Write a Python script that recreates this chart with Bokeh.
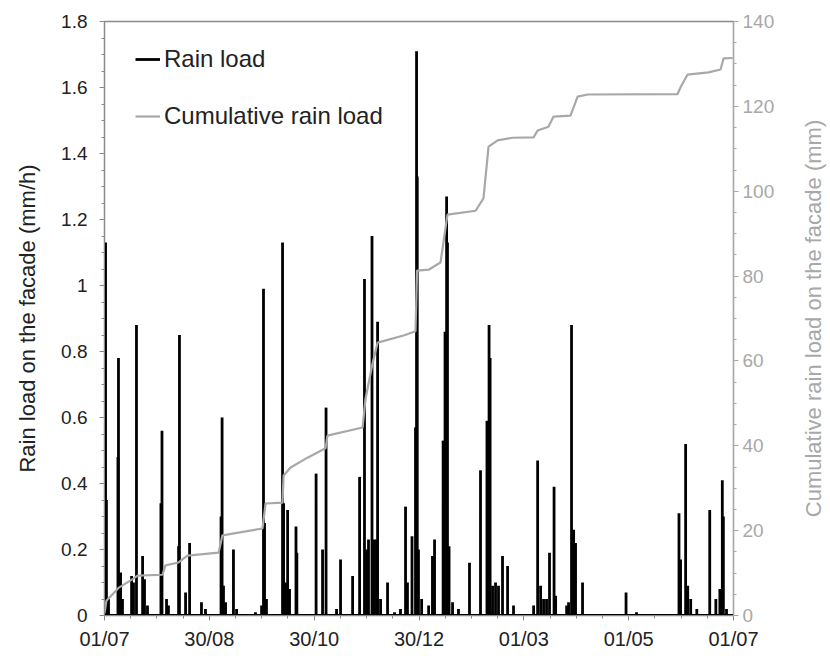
import math
from bokeh.plotting import figure
from bokeh.models import Range1d, LinearAxis, FixedTicker, Legend, LegendItem, ColumnDataSource, Label
from bokeh.embed import file_html
from bokeh.resources import INLINE

# x positions are days after 01/07
tick_days = [0, 60, 120, 180, 240, 300, 360]
tick_labels = ["01/07", "30/08", "30/10", "30/12", "01/03", "01/05", "01/07"]

rain_day = [0.6, 1.1, 2.3, 7.7, 8.0, 9.2, 10.3, 15.5, 16.6, 18.3, 21.8, 22.9, 24.6,
            32.3, 32.9, 35.5, 36.6, 42.4, 42.9, 46.4, 48.7, 55.5, 57.8, 66.7, 67.3,
            68.1, 69.3, 73.8, 75.6, 86.4, 89.9, 91.0, 91.6, 92.7, 101.9, 102.5, 103.6,
            104.8, 105.9, 109.6, 110.1, 121.1, 124.8, 126.8, 132.8, 135.1, 142.0, 146.0,
            148.8, 150.0, 151.1, 153.1, 154.5, 155.7, 156.3, 158.0, 162.0, 166.0, 169.4,
            172.3, 173.4, 176.0, 178.0, 178.6, 179.0, 179.7, 181.5, 185.5, 187.7, 188.9,
            193.8, 194.9, 195.8, 196.3, 197.2, 199.2, 202.6, 208.9, 215.2, 218.9, 220.1,
            220.7, 222.1, 223.8, 225.5, 227.8, 230.7, 234.1, 245.6, 247.9, 249.6, 251.3,
            253.0, 254.7, 257.3, 258.2, 264.5, 265.6, 267.3, 268.5, 269.6, 273.6, 298.5,
            304.5, 328.8, 329.7, 332.6, 333.8, 335.5, 339.0, 346.4, 349.9, 352.2, 353.6,
            354.2, 356.0]
rain_load = [1.13, 0.35, 0.05, 0.48, 0.78, 0.13, 0.05, 0.12, 0.10, 0.88, 0.18, 0.11, 0.03,
             0.34, 0.56, 0.05, 0.03, 0.21, 0.85, 0.07, 0.22, 0.04, 0.02, 0.30, 0.60,
             0.09, 0.04, 0.20, 0.02, 0.01, 0.03, 0.99, 0.28, 0.05, 1.13, 0.34, 0.10,
             0.32, 0.08, 0.27, 0.19, 0.43, 0.20, 0.63, 0.02, 0.17, 0.12, 0.42,
             1.02, 0.20, 0.23, 1.15, 0.23, 0.23, 0.89, 0.05, 0.10, 0.01, 0.02,
             0.33, 0.10, 0.24, 0.57, 1.71, 1.33, 0.20, 0.05, 0.03, 0.18, 0.23,
             0.53, 0.86, 1.27, 1.13, 0.21, 0.04, 0.02, 0.16, 0.44, 0.59, 0.88,
             0.78, 0.09, 0.10, 0.09, 0.18, 0.15, 0.03, 0.03, 0.47, 0.09, 0.05,
             0.05, 0.19, 0.39, 0.06, 0.03, 0.04, 0.88, 0.26, 0.22, 0.10, 0.07,
             0.01, 0.31, 0.17, 0.52, 0.09, 0.05, 0.02, 0.32, 0.05, 0.08, 0.41,
             0.30, 0.02]

cum_day = [0.0, 1.1, 8.0, 16.6, 18.9, 33.2, 34.9, 42.4, 47.5, 65.3, 67.5, 90.4, 92.2,
           101.9, 102.5, 106.5, 116.2, 121.9, 126.5, 127.6, 147.7, 149.4, 153.4, 156.3,
           171.2, 178.0, 178.9, 185.5, 192.3, 196.3, 212.4, 216.9, 219.8, 225.0, 233.5,
           245.6, 247.9, 254.1, 257.0, 266.7, 270.8, 276.5, 328.0, 329.7, 333.7, 345.7,
           352.6, 354.3, 359.5]
cum_load = [0.5, 3.5, 6.5, 8.7, 9.4, 9.6, 11.8, 12.5, 14.1, 14.8, 18.9, 20.5, 26.4,
            26.6, 33.0, 34.9, 37.2, 38.4, 39.4, 42.4, 44.3, 51.1, 59.4, 64.3,
            66.0, 67.0, 81.3, 81.5, 83.2, 94.5, 95.4, 98.3, 110.5, 112.0, 112.6,
            112.7, 114.3, 115.2, 117.6, 117.8, 122.3, 122.8, 122.9, 124.5, 127.5, 128.0,
            128.7, 131.3, 131.4]

FONT = "Liberation Sans"
GREY = "#a8a8a8"

p = figure(width=830, height=662, output_backend="svg", toolbar_location=None,
           x_range=Range1d(0, 360), y_range=Range1d(0, 1.8),
           min_border_left=104, min_border_right=97, min_border_top=21, min_border_bottom=47)
p.extra_y_ranges = {"cum": Range1d(0, 140)}
p.xgrid.visible = False
p.ygrid.visible = False
p.outline_line_color = "#8a8a8a"
p.outline_line_width = 1.5

src = ColumnDataSource(dict(x=rain_day, y=rain_load, y0=[0] * len(rain_day)))
base = p.line(x=[tick_days[0], tick_days[-1]], y=[0, 0], line_color="black", line_width=3)
rain = p.segment(x0="x", y0="y0", x1="x", y1="y", source=src, line_color="black", line_width=2.8)
cum = p.line(x=cum_day, y=cum_load, y_range_name="cum", line_color=GREY, line_width=2.2)

# axes
xa = p.xaxis[0]
xa.ticker = FixedTicker(ticks=tick_days, minor_ticks=list(range(0, 361, 15)))
xa.major_label_overrides = {d: l for d, l in zip(tick_days, tick_labels)}
ya = p.yaxis[0]
ya.ticker = FixedTicker(ticks=[0, 0.2, 0.4, 0.6, 0.8, 1.0, 1.2, 1.4, 1.6, 1.8],
                        minor_ticks=[i * 0.05 for i in range(37)])
ya.major_label_overrides = {0: "0", 1.0: "1"}
ya.axis_label = "Rain load on the facade (mm/h)"

ra = LinearAxis(y_range_name="cum")
ra.ticker = FixedTicker(ticks=list(range(0, 141, 20)), minor_ticks=list(range(0, 141, 5)))
p.add_layout(ra, "right")

for ax in (xa, ya, ra):
    ax.axis_line_color = "#8a8a8a"
    ax.major_tick_line_color = "#8a8a8a"
    ax.minor_tick_line_color = "#8a8a8a"
    ax.major_tick_in = 0
    ax.major_tick_out = 5
    ax.minor_tick_in = 0
    ax.minor_tick_out = 3
    ax.major_label_text_font = FONT
    ax.axis_label_text_font = FONT
    ax.axis_label_text_font_style = "normal"
    ax.major_label_text_font_size = "19px"
    ax.axis_label_text_font_size = "22px"
    ax.major_label_text_color = "#222222"
    ax.axis_label_text_color = "#222222"

xa.major_label_text_font_size = "20px"
xa.major_label_standoff = 7
ya.major_label_standoff = 12
ya.axis_label_standoff = 18
ra.major_label_text_color = GREY
ra.axis_line_color = GREY
ra.major_tick_line_color = GREY
ra.minor_tick_line_color = GREY
ra.major_label_standoff = 4

right_title = Label(x=36, y=297, x_units="screen", y_units="screen",
                    text="Cumulative rain load on the facade (mm)", angle=math.pi / 2,
                    text_align="center", text_baseline="middle", text_font=FONT,
                    text_font_size="22px", text_color=GREY, level="overlay")
p.add_layout(right_title, "right")

legend = Legend(items=[LegendItem(label="Rain load", renderers=[rain]),
                       LegendItem(label="Cumulative rain load", renderers=[cum])],
                location=(31, 485), border_line_color=None, background_fill_alpha=0,
                label_text_font=FONT, label_text_font_size="24px", label_text_color="#222222",
                glyph_width=25, glyph_height=24, label_height=24, spacing=29,
                padding=0, margin=0, label_standoff=4)
p.add_layout(legend, "center")

open("out.html", "w").write(file_html(p, INLINE))
